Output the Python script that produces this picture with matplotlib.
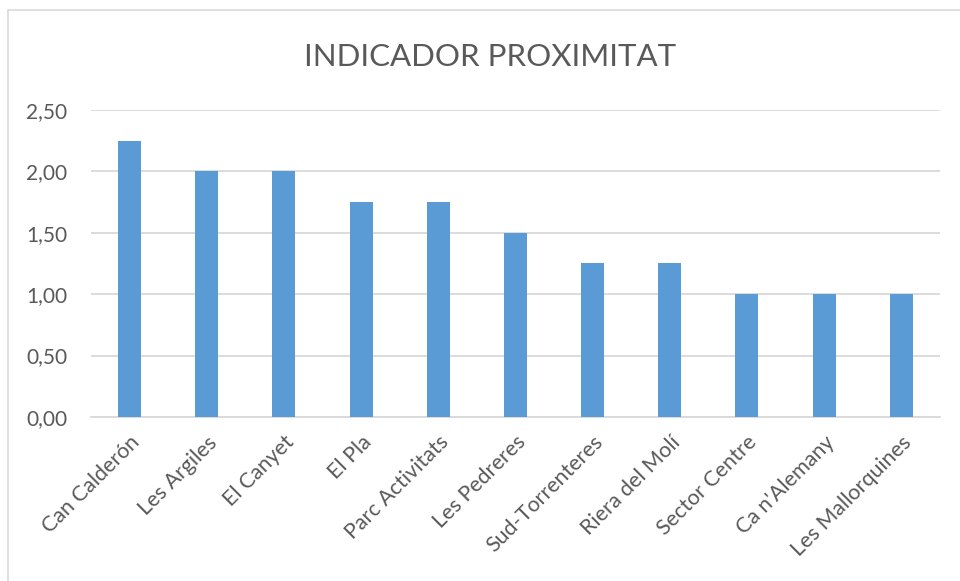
import matplotlib.pyplot as plt
from matplotlib.patches import Rectangle
from matplotlib.ticker import FuncFormatter

# Indicador de proximitat per sector
sectors = ["Can Calderón", "Les Argiles", "El Canyet", "El Pla", "Parc Activitats",
           "Les Pedreres", "Sud-Torrenteres", "Riera del Molí", "Sector Centre",
           "Ca n'Alemany", "Les Mallorquines"]
proximitat = [2.25, 2.00, 2.00, 1.75, 1.75, 1.50, 1.25, 1.25, 1.00, 1.00, 1.00]
y_ticks = [0.0, 0.5, 1.0, 1.5, 2.0, 2.5]

text_color = "#595959"
grid_color = "#d9d9d9"
bar_color = "#5b9bd5"

plt.rcParams['font.family'] = ['Lato', 'DejaVu Sans']

fig = plt.figure(figsize=(9.6, 5.81), dpi=100)
ax = fig.add_axes([0.0948, 0.2823, 0.8842, 0.5284])

# chart frame
fig.patches.append(Rectangle((8 / 960, -0.05), 1.0, 1 - 10 / 581 + 0.05,
                             transform=fig.transFigure, fill=False,
                             edgecolor="#d9d9d9", linewidth=1.2))

x = range(len(sectors))
ax.bar(x, proximitat, width=0.3, color=bar_color, zorder=3)

ax.set_xlim(-0.5, len(sectors) - 0.5)
ax.set_ylim(0, 2.5)
ax.set_yticks(y_ticks)
ax.yaxis.set_major_formatter(FuncFormatter(lambda v, p: f"{v:.2f}".replace(".", ",")))
ax.grid(axis="y", color=grid_color, linewidth=1.3, zorder=0)
ax.set_axisbelow(True)

for s in ["top", "right", "left"]:
    ax.spines[s].set_visible(False)
ax.spines["bottom"].set_color(grid_color)
ax.spines["bottom"].set_linewidth(1.3)

ax.set_xticks(list(x))
ax.set_xticklabels(sectors, rotation=45, ha="right", rotation_mode="anchor",
                   fontsize=15.5, color=text_color)
ax.tick_params(axis="x", length=0, pad=11)
ax.tick_params(axis="y", length=0, pad=17, labelsize=15, labelcolor=text_color)

fig.text(490 / 960, 1 - 57 / 581, "INDICADOR PROXIMITAT", ha="center", va="center",
         fontsize=22.5, color=text_color)

fig.savefig("out.png", dpi=100)
